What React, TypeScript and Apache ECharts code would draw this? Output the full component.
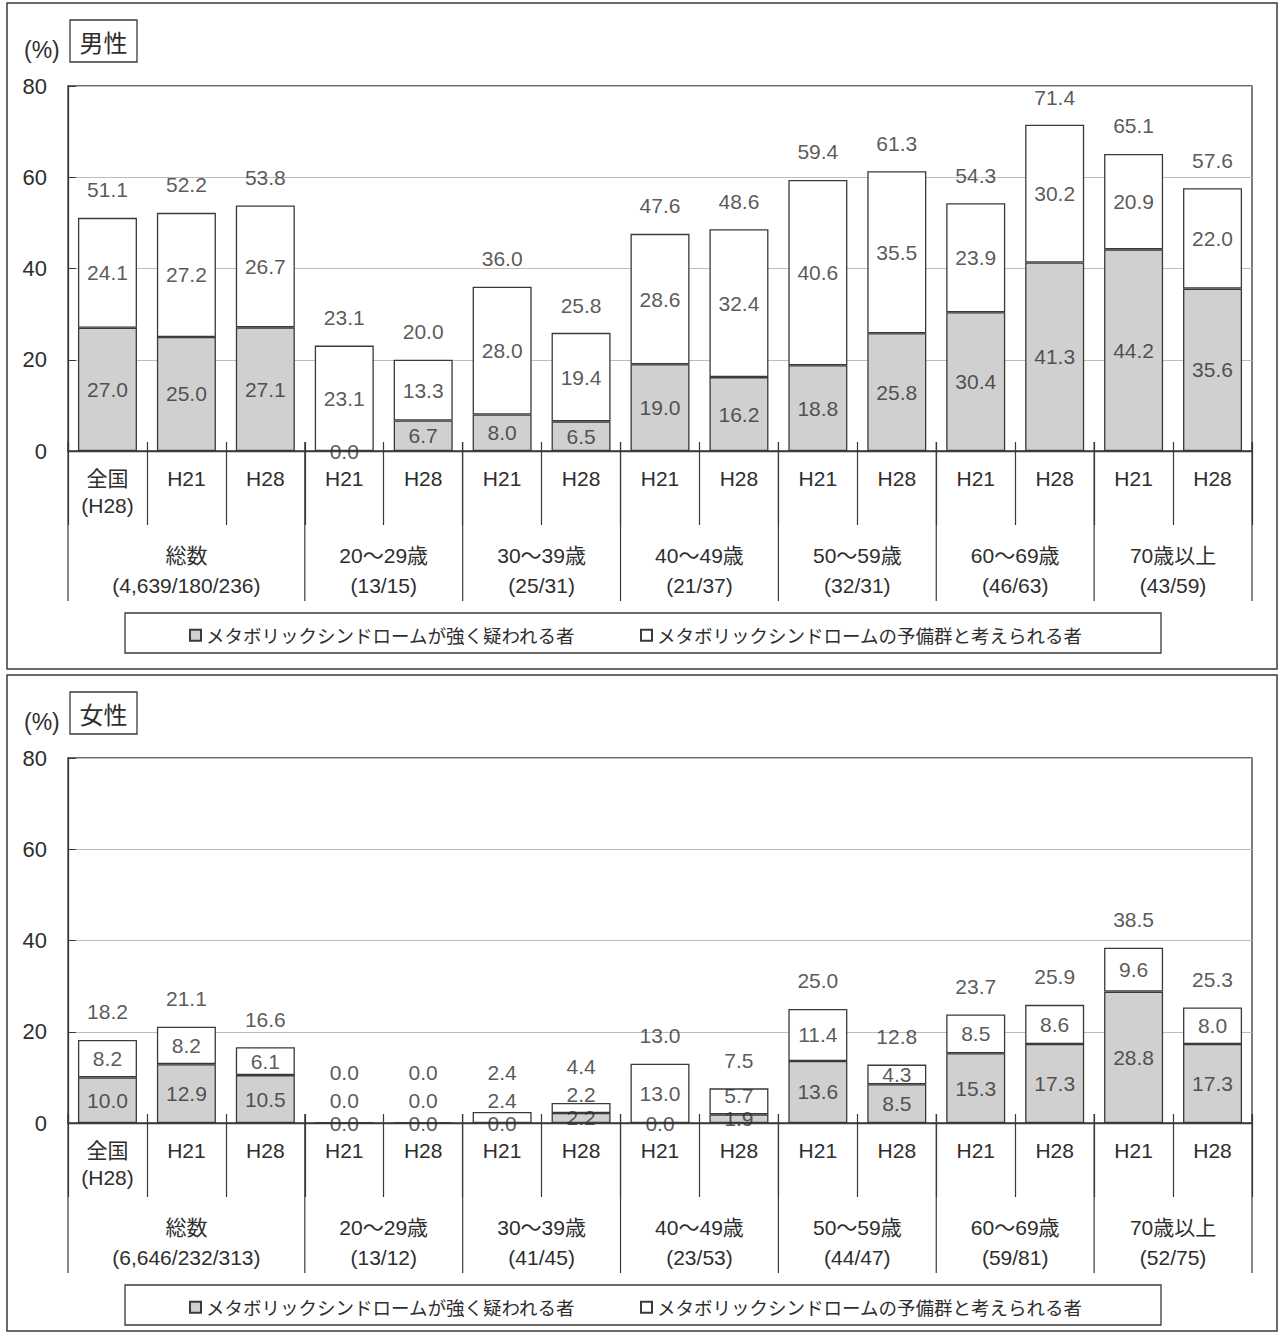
import React, { useEffect, useRef } from "react";
import * as echarts from "echarts";

// ---------- data ----------
const categories = [
  "全国\n(H28)", "H21", "H28", "H21", "H28", "H21", "H28", "H21", "H28",
  "H21", "H28", "H21", "H28", "H21", "H28",
];
const groupNames = ["総数", "20～29歳", "30～39歳", "40～49歳", "50～59歳", "60～69歳", "70歳以上"];
const groupSizes = [3, 2, 2, 2, 2, 2, 2];
const maleCounts = ["(4,639/180/236)", "(13/15)", "(25/31)", "(21/37)", "(32/31)", "(46/63)", "(43/59)"];
const femaleCounts = ["(6,646/232/313)", "(13/12)", "(41/45)", "(23/53)", "(44/47)", "(59/81)", "(52/75)"];

const maleStrong = [27.0, 25.0, 27.1, 0.0, 6.7, 8.0, 6.5, 19.0, 16.2, 18.8, 25.8, 30.4, 41.3, 44.2, 35.6];
const maleReserve = [24.1, 27.2, 26.7, 23.1, 13.3, 28.0, 19.4, 28.6, 32.4, 40.6, 35.5, 23.9, 30.2, 20.9, 22.0];
const maleTotal = [51.1, 52.2, 53.8, 23.1, 20.0, 36.0, 25.8, 47.6, 48.6, 59.4, 61.3, 54.3, 71.4, 65.1, 57.6];

const femaleStrong = [10.0, 12.9, 10.5, 0.0, 0.0, 0.0, 2.2, 0.0, 1.9, 13.6, 8.5, 15.3, 17.3, 28.8, 17.3];
const femaleReserve = [8.2, 8.2, 6.1, 0.0, 0.0, 2.4, 2.2, 13.0, 5.7, 11.4, 4.3, 8.5, 8.6, 9.6, 8.0];
const femaleTotal = [18.2, 21.1, 16.6, 0.0, 0.0, 2.4, 4.4, 13.0, 7.5, 25.0, 12.8, 23.7, 25.9, 38.5, 25.3];

const seriesNames = ["メタボリックシンドロームが強く疑われる者", "メタボリックシンドロームの予備群と考えられる者"];
const yTicks = { min: 0, max: 80, interval: 20 };

// ---------- layout ----------
const W = 1279;
const GRID = { left: 68, top: 86, width: 1184, height: 365 };
const K = GRID.height / (yTicks.max - yTicks.min);
const NUM_FONT = "'Liberation Sans', Arial, 'Noto Sans CJK JP', sans-serif";
const JP_FONT = "'Noto Sans CJK JP', sans-serif";
const TEXT = "#2e2e2e";
const LINE = "#3a3a3a";

function buildOption(title: string, strong: number[], reserve: number[], total: number[], counts: string[], panelH: number) {
  const groups: number[][] = [];
  let s = 0;
  groupSizes.forEach((n) => { groups.push([s, n]); s += n; });

  const sLbl: any[] = [], rLbl: any[] = [], tLbl: any[] = [];
  strong.forEach((sv, i) => {
    const rv = reserve[i], tv = total[i];
    const sPx = (sv / 2) * K;
    const rC = (sv + rv / 2) * K;
    const rPx = Math.max(rC, sPx + 23);
    const tPx = Math.max(tv * K + 28, rPx + 28);
    sLbl.push({ value: [i, sv / 2], txt: sv.toFixed(1) });
    rLbl.push({ value: [i, sv + rv / 2], txt: rv.toFixed(1), label: { offset: [0, -(rPx - rC)] } });
    tLbl.push({ value: [i, tv], txt: tv.toFixed(1), label: { offset: [0, -(tPx - tv * K)] } });
  });

  const lblSeries = (data: any[]) => ({
    type: "scatter",
    data,
    symbolSize: 1,
    itemStyle: { color: "transparent" },
    silent: true,
    z: 10,
    label: {
      show: true,
      position: "inside",
      formatter: (p: any) => p.data.txt,
      fontSize: 21,
      fontFamily: NUM_FONT,
      color: TEXT,
    },
  });

  const barStyle = (fill: string) => ({ color: fill, borderColor: LINE, borderWidth: 1.3 });

  return {
    animation: false,
    grid: { ...GRID, show: true, borderColor: LINE, borderWidth: 1.3, backgroundColor: "transparent" },
    legend: {
      data: seriesNames,
      left: 184,
      top: 621,
      itemGap: 64,
      itemWidth: 11,
      itemHeight: 11,
      icon: "rect",
      textStyle: { fontSize: 18.5, color: TEXT, fontFamily: JP_FONT },
      selectedMode: false,
    },
    xAxis: [
      {
        type: "category",
        data: categories,
        axisLine: { show: true, lineStyle: { color: LINE, width: 1.3 } },
        axisTick: { show: true, interval: 0, length: 74, lineStyle: { color: LINE, width: 1.2 } },
        axisLabel: { interval: 0, fontSize: 21, lineHeight: 27, margin: 14, color: TEXT, fontFamily: NUM_FONT },
      },
      {
        type: "category",
        data: categories,
        position: "bottom",
        axisLine: { show: false },
        axisTick: { show: true, inside: true, interval: 0, length: 9, lineStyle: { color: LINE, width: 1.2 } },
        axisLabel: { show: false },
      },
    ],
    yAxis: {
      type: "value",
      min: yTicks.min,
      max: yTicks.max,
      interval: yTicks.interval,
      axisLine: { show: true, lineStyle: { color: LINE, width: 1.3 } },
      axisTick: { show: true, inside: true, length: 8, lineStyle: { color: LINE } },
      axisLabel: { fontSize: 22, margin: 21, color: TEXT, fontFamily: NUM_FONT },
      splitLine: { show: true, lineStyle: { color: "#bdbdbd", width: 1 } },
    },
    graphic: [
      { type: "rect", shape: { x: 7, y: 3, width: W - 9, height: panelH - 6 }, style: { fill: "none", stroke: LINE, lineWidth: 1.5 }, z: 0 },
      { type: "text", x: 24, y: 50, style: { text: "(%)", fontSize: 23, fontFamily: NUM_FONT, fill: TEXT, verticalAlign: "middle" } },
      { type: "rect", shape: { x: 70, y: 20, width: 67, height: 42 }, style: { fill: "#fff", stroke: LINE, lineWidth: 1.3 } },
      { type: "text", x: 103.5, y: 41, style: { text: title, fontSize: 24, fontFamily: JP_FONT, fill: TEXT, align: "center", verticalAlign: "middle" } },
      { type: "rect", shape: { x: 125, y: 613, width: 1036, height: 40 }, style: { fill: "none", stroke: LINE, lineWidth: 1.3 } },
    ],
    series: [
      { name: seriesNames[0], type: "bar", stack: "a", data: strong, barWidth: 59, itemStyle: barStyle("#d0d0d0"), silent: true },
      { name: seriesNames[1], type: "bar", stack: "a", data: reserve, barWidth: 59, itemStyle: barStyle("#ffffff"), silent: true },
      lblSeries(sLbl),
      lblSeries(rLbl),
      lblSeries(tLbl),
      {
        type: "custom",
        data: groups,
        clip: false,
        silent: true,
        z: 5,
        renderItem: (params: any, api: any) => {
          const idx = params.dataIndex;
          const start = api.value(0);
          const count = api.value(1);
          const band = api.size([1, 0])[0];
          const p0 = api.coord([start, 0]);
          const x0 = p0[0] - band / 2;
          const x1 = api.coord([start + count - 1, 0])[0] + band / 2;
          const y0 = p0[1];
          const ls = { stroke: LINE, lineWidth: 1.2 };
          const children: any[] = [
            { type: "line", shape: { x1: x0, y1: y0 - 9, x2: x0, y2: y0 + 150 }, style: ls },
            { type: "text", x: (x0 + x1) / 2, y: y0 + 104, style: { text: groupNames[idx], fontSize: 21, fontFamily: NUM_FONT, fill: TEXT, align: "center", verticalAlign: "middle" } },
            { type: "text", x: (x0 + x1) / 2, y: y0 + 134, style: { text: counts[idx], fontSize: 21, fontFamily: NUM_FONT, fill: TEXT, align: "center", verticalAlign: "middle" } },
          ];
          if (idx === groups.length - 1) {
            children.push({ type: "line", shape: { x1: x1, y1: y0 - 9, x2: x1, y2: y0 + 150 }, style: ls });
          }
          return { type: "group", children };
        },
      },
    ],
  };
}

function Panel(props: { title: string; strong: number[]; reserve: number[]; total: number[]; counts: string[]; height: number }) {
  const ref = useRef<HTMLDivElement>(null);
  useEffect(() => {
    if (!ref.current) return;
    const chart = echarts.init(ref.current, null, { renderer: "svg" });
    chart.setOption(buildOption(props.title, props.strong, props.reserve, props.total, props.counts, props.height) as any);
    return () => chart.dispose();
  }, []);
  return <div ref={ref} style={{ width: W, height: props.height }} />;
}

export default function App() {
  return (
    <div style={{ position: "absolute", left: 0, top: 0, width: W, height: 1334, overflow: "hidden", background: "#fff" }}>
      <Panel title="男性" strong={maleStrong} reserve={maleReserve} total={maleTotal} counts={maleCounts} height={672} />
      <Panel title="女性" strong={femaleStrong} reserve={femaleReserve} total={femaleTotal} counts={femaleCounts} height={662} />
    </div>
  );
}
